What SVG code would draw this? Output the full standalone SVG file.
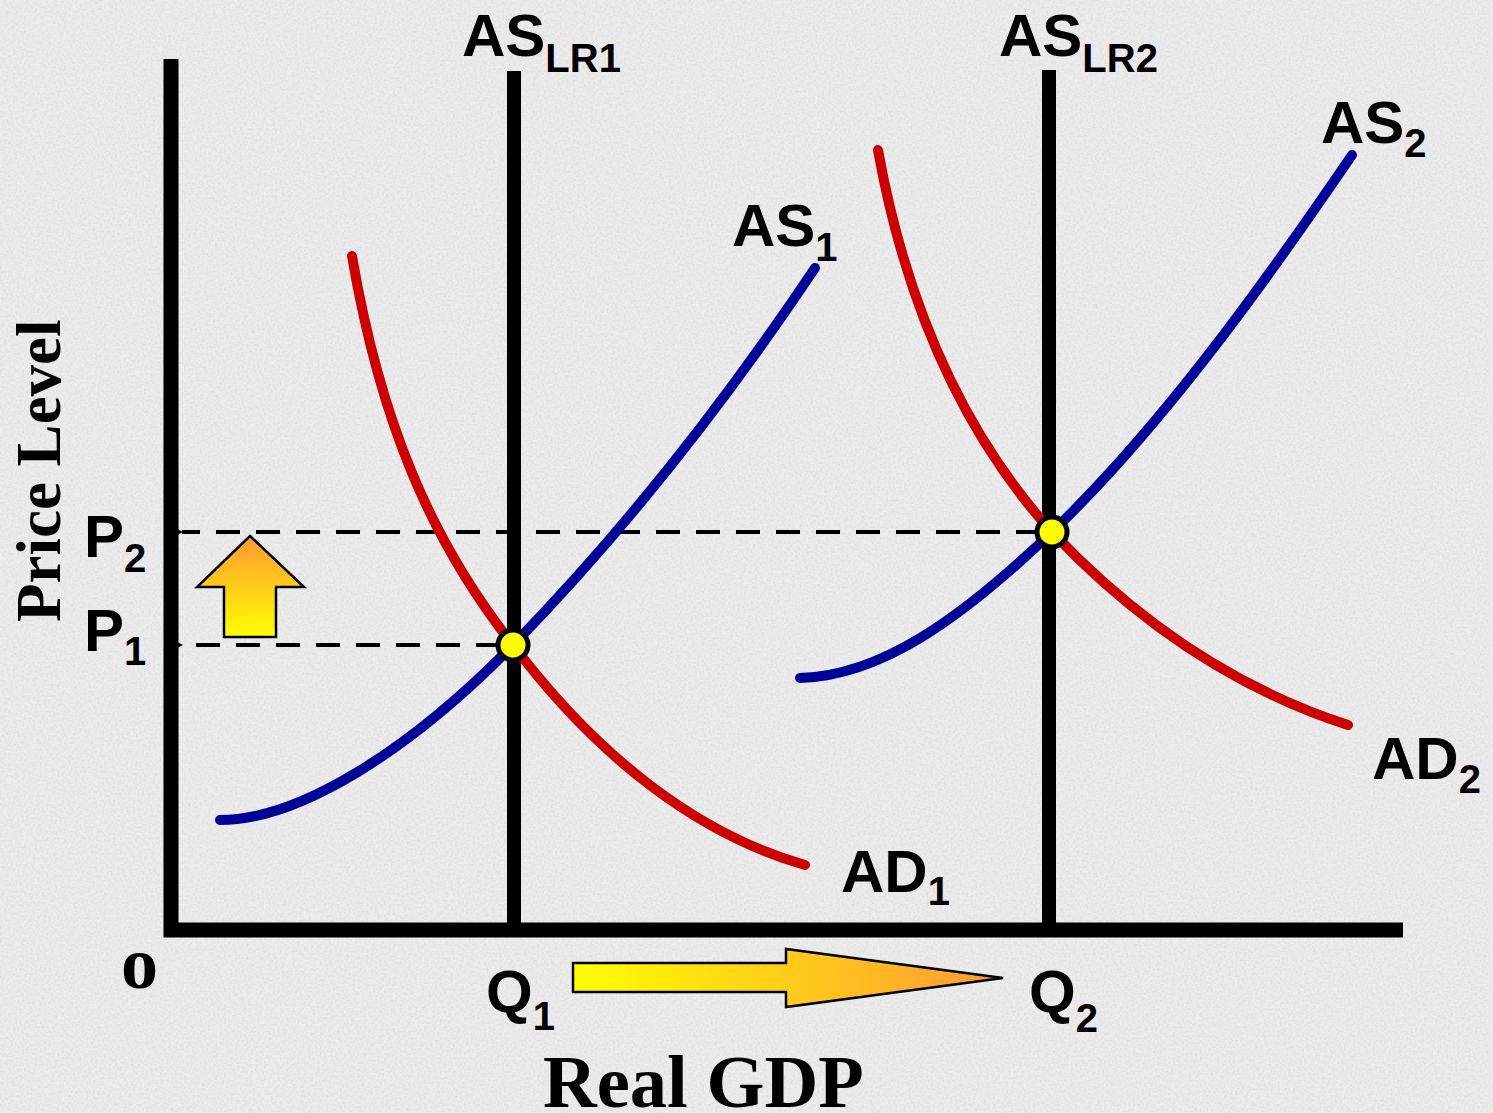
<svg xmlns="http://www.w3.org/2000/svg" width="1493" height="1113" viewBox="0 0 1493 1113">
<style>
.lbl{font-family:"Liberation Sans",Arial,sans-serif;font-weight:bold;fill:#000}
.big{font-size:60px}
.sub{font-size:40px}
.ser{font-family:"Liberation Serif","Times New Roman",serif;font-weight:bold;fill:#000}
.axis{stroke:#000;stroke-width:15;fill:none}
.lr{stroke:#000;stroke-width:14;fill:none}
.ad{stroke:#CC0000;stroke-width:10;fill:none;stroke-linecap:round}
.as{stroke:#000099;stroke-width:10;fill:none;stroke-linecap:round}
.dash{stroke:#000;stroke-width:4;stroke-dasharray:24 16;fill:none}
.eq{fill:#FFFF00;stroke:#000;stroke-width:5}
</style>
<defs>
<filter id="noise" x="0" y="0" width="100%" height="100%">
<feTurbulence type="fractalNoise" baseFrequency="0.45" numOctaves="2" seed="3" result="t"/>
<feColorMatrix type="matrix" values="0 0 0 0 0.55  0 0 0 0 0.55  0 0 0 0 0.55  0 0 0 -1.6 1.0" in="t"/>
</filter>
<marker id="ah" markerWidth="12" markerHeight="12" refX="1" refY="6" orient="auto" markerUnits="userSpaceOnUse">
<path d="M0,6 L12,0 L12,12 Z" fill="#000"/>
</marker>
<linearGradient id="gUp" x1="0" y1="0" x2="0" y2="1">
<stop offset="0" stop-color="#FF9933"/>
<stop offset="1" stop-color="#FFFF00"/>
</linearGradient>
<linearGradient id="gRight" x1="0" y1="0" x2="1" y2="0">
<stop offset="0" stop-color="#FFFF00"/>
<stop offset="1" stop-color="#FF9933"/>
</linearGradient>
</defs>
<rect width="1493" height="1113" fill="#ececec"/>
<rect width="1493" height="1113" filter="url(#noise)" opacity="0.35"/>

<g id="axes">
<path class="axis" d="M171,59 V930 H1403"/>
</g>

<g id="connectors">
<path class="dash" d="M1040,532 H182" marker-end="url(#ah)"/>
<path class="dash" d="M500,645 H182" marker-end="url(#ah)"/>
<line id="aslr1" class="lr" x1="514" y1="71" x2="514" y2="930"/>
<line id="aslr2" class="lr" x1="1049" y1="70" x2="1049" y2="930"/>
<path id="ad1" class="ad" d="M352,256 C380,420 430,540 513,645 C600,760 700,835 805,865"/>
<path id="ad2" class="ad" d="M878,150 C905,300 960,430 1052,532 C1140,625 1240,690 1348,725"/>
<path id="as1" class="as" d="M220,820 C300,820 410,750 513,645 C620,535 720,410 815,268"/>
<path id="as2" class="as" d="M800,678 C880,676 960,620 1052,532 C1160,428 1260,290 1352,155"/>
</g>

<g id="eq1"><circle class="eq" cx="513" cy="645" r="15"/></g>
<g id="eq2"><circle class="eq" cx="1052" cy="532" r="15"/></g>

<g id="arrow-up">
<path d="M250,536 L304,587 L276,587 L276,637 L224,637 L224,587 L197,587 Z" fill="url(#gUp)" stroke="#000" stroke-width="2.5"/>
</g>
<g id="arrow-right">
<path d="M573,963 L786,963 L786,949 L1003,978 L786,1007 L786,992 L573,992 Z" fill="url(#gRight)" stroke="#000" stroke-width="2.5"/>
</g>

<g id="label-aslr1"><text class="lbl big" x="462" y="56">AS<tspan class="sub" dy="16">LR1</tspan></text></g>
<g id="label-aslr2"><text class="lbl big" x="999" y="56">AS<tspan class="sub" dy="16">LR2</tspan></text></g>
<g id="label-as2"><text class="lbl big" x="1321" y="143">AS<tspan class="sub" dy="14">2</tspan></text></g>
<g id="label-as1"><text class="lbl big" x="732" y="246">AS<tspan class="sub" dy="15">1</tspan></text></g>
<g id="label-ad1"><text class="lbl big" x="841" y="892">AD<tspan class="sub" dy="13">1</tspan></text></g>
<g id="label-ad2"><text class="lbl big" x="1372" y="779">AD<tspan class="sub" dy="14">2</tspan></text></g>
<g id="label-p2"><text class="lbl big" x="84" y="557">P<tspan class="sub" dy="15">2</tspan></text></g>
<g id="label-p1"><text class="lbl big" x="84" y="651">P<tspan class="sub" dy="14">1</tspan></text></g>
<g id="label-q1"><text class="lbl big" x="486" y="1012">Q<tspan class="sub" dy="18">1</tspan></text></g>
<g id="label-q2"><text class="lbl big" x="1029" y="1012">Q<tspan class="sub" dy="20">2</tspan></text></g>
<g id="label-origin"><text class="ser" font-size="74" x="121" y="988">o</text></g>
<g id="label-x"><text class="ser" font-size="74.5" x="543" y="1107">Real GDP</text></g>
<g id="label-y"><text class="ser" font-size="63" transform="translate(60,622) rotate(-90)">Price Level</text></g>
</svg>
